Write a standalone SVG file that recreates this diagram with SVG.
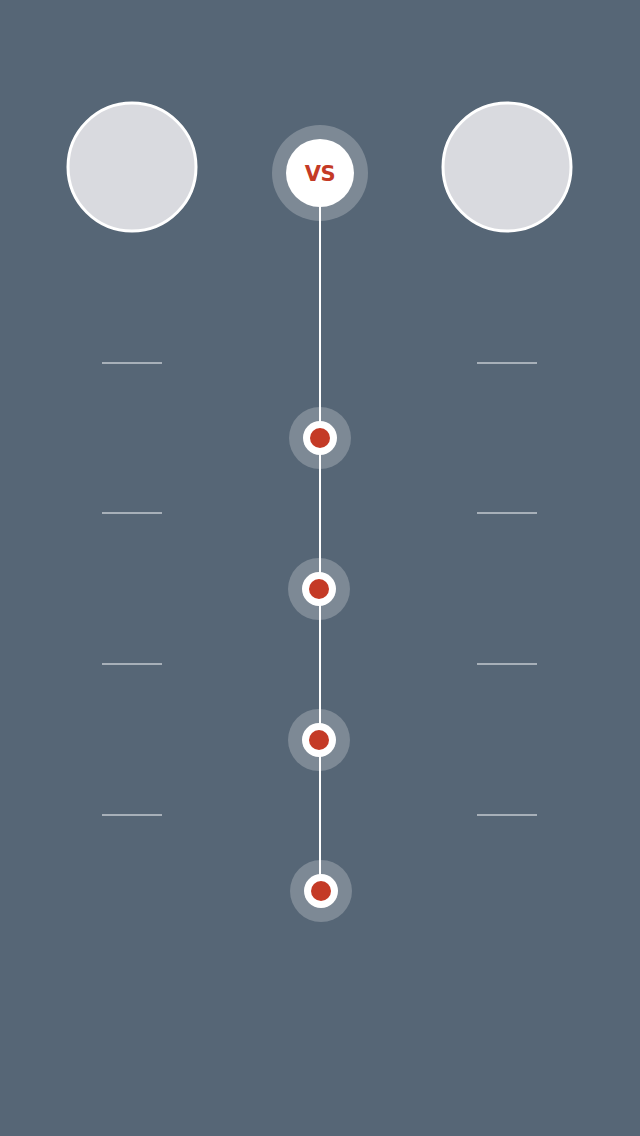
<svg xmlns="http://www.w3.org/2000/svg" width="640" height="1136" viewBox="0 0 640 1136">
<style>
.avatar{fill:#d9dadf;stroke:#ffffff;stroke-width:3}
.halo{fill:#7d8995}
.ring{fill:#ffffff}
.dot{fill:#c43a26}
.dash{stroke:#a7b0b9;stroke-width:2}
.vs{font-family:"DejaVu Sans","Liberation Sans",sans-serif;font-weight:bold;font-size:21px;fill:#c43a26;letter-spacing:-0.5px}
</style>
<rect x="0" y="0" width="640" height="1136" fill="#566676"/>
<g id="halos">
<circle class="halo" cx="320" cy="173" r="48"/>
<circle class="halo" cx="320" cy="438" r="31"/>
<circle class="halo" cx="319" cy="589" r="31"/>
<circle class="halo" cx="319" cy="740" r="31"/>
<circle class="halo" cx="321" cy="891" r="31"/>
</g>
<g id="connectors">
<line x1="320" y1="200" x2="320" y2="880" stroke="#ffffff" stroke-width="2"/>
</g>
<g id="left-avatar"><circle class="avatar" cx="132" cy="167" r="64"/></g>
<g id="right-avatar"><circle class="avatar" cx="507" cy="167" r="64"/></g>
<g id="vs">
<circle class="ring" cx="320" cy="173" r="34"/>
<text class="vs" x="320" y="181" text-anchor="middle">VS</text>
</g>
<g id="dashes">
<line class="dash" x1="102" y1="363" x2="162" y2="363"/>
<line class="dash" x1="477" y1="363" x2="537" y2="363"/>
<line class="dash" x1="102" y1="513" x2="162" y2="513"/>
<line class="dash" x1="477" y1="513" x2="537" y2="513"/>
<line class="dash" x1="102" y1="664" x2="162" y2="664"/>
<line class="dash" x1="477" y1="664" x2="537" y2="664"/>
<line class="dash" x1="102" y1="815" x2="162" y2="815"/>
<line class="dash" x1="477" y1="815" x2="537" y2="815"/>
</g>
<g id="point1"><circle class="ring" cx="320" cy="438" r="17"/><circle class="dot" cx="320" cy="438" r="10"/></g>
<g id="point2"><circle class="ring" cx="319" cy="589" r="17"/><circle class="dot" cx="319" cy="589" r="10"/></g>
<g id="point3"><circle class="ring" cx="319" cy="740" r="17"/><circle class="dot" cx="319" cy="740" r="10"/></g>
<g id="point4"><circle class="ring" cx="321" cy="891" r="17"/><circle class="dot" cx="321" cy="891" r="10"/></g>
</svg>
